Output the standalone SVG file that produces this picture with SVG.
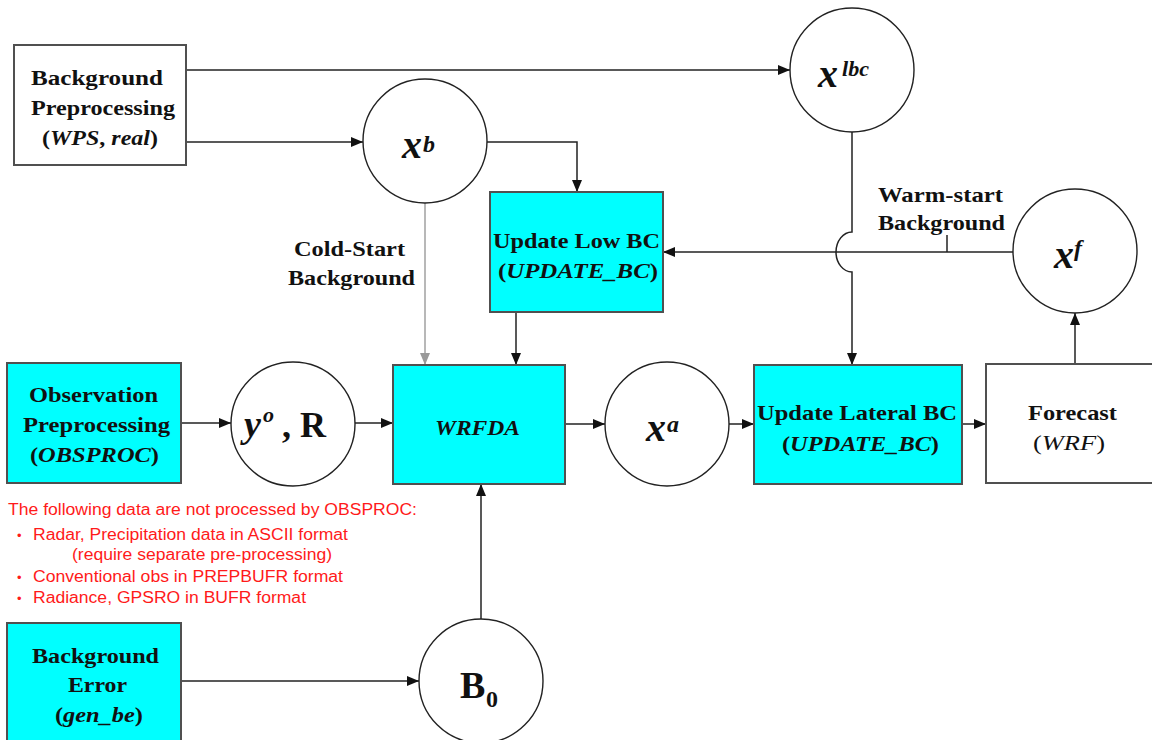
<svg xmlns="http://www.w3.org/2000/svg" width="1152" height="740" viewBox="0 0 1152 740">
<style>
.box{stroke:#505050;stroke-width:2}
.cy{fill:#00ffff}
.wh{fill:#ffffff}
.node{fill:#ffffff;stroke:#222;stroke-width:1.4}
.lbl{font-family:"Liberation Serif","Times New Roman",serif;font-weight:bold;font-size:22px;fill:#111}
.it{font-style:italic}
.nw{font-weight:normal}
.math{font-family:"Liberation Serif","Times New Roman",serif;font-weight:bold;font-style:italic;fill:#111}
.conn{fill:none;stroke:#222;stroke-width:1.5}
.gray{fill:none;stroke:#a0a0a0;stroke-width:1.5}
.red{font-family:"Liberation Sans",Arial,sans-serif;font-size:16px;fill:#ff1a1a}
</style>
<defs>
<marker id="ah" markerUnits="userSpaceOnUse" markerWidth="12" markerHeight="10" refX="12" refY="5" orient="auto">
<path d="M0,0 L12,5 L0,10 Z" fill="#111"/>
</marker>
<marker id="ahg" markerUnits="userSpaceOnUse" markerWidth="12" markerHeight="10" refX="12" refY="5" orient="auto">
<path d="M0,0 L12,5 L0,10 Z" fill="#999"/>
</marker>
</defs>
<rect width="1152" height="740" fill="#ffffff"/>

<g id="connectors">
<path class="conn" d="M186,70 H790" marker-end="url(#ah)"/>
<path class="conn" d="M186,142 H363" marker-end="url(#ah)"/>
<path class="conn" d="M487,142 H577 V192" marker-end="url(#ah)"/>
<path class="gray" d="M425,203 V365" marker-end="url(#ahg)"/>
<path class="conn" d="M516,312 V365" marker-end="url(#ah)"/>
<path class="conn" d="M852,132 V232 A16,20 0 0 0 852,272 V365" marker-end="url(#ah)"/>
<path class="conn" d="M1013,252 H663" marker-end="url(#ah)"/>
<path class="conn" d="M947,235 V252"/>
<path class="conn" d="M181,423 H231" marker-end="url(#ah)"/>
<path class="conn" d="M355,423 H393" marker-end="url(#ah)"/>
<path class="conn" d="M565,424 H605" marker-end="url(#ah)"/>
<path class="conn" d="M729,424 H754" marker-end="url(#ah)"/>
<path class="conn" d="M962,424 H986" marker-end="url(#ah)"/>
<path class="conn" d="M1075,364 V313" marker-end="url(#ah)"/>
<path class="conn" d="M181,681 H419" marker-end="url(#ah)"/>
<path class="conn" d="M481,619 V484" marker-end="url(#ah)"/>
</g>

<g id="bg-preprocessing">
<rect class="box wh" x="14" y="45" width="172" height="120"/>
<text class="lbl" x="31" y="85" textLength="132" lengthAdjust="spacingAndGlyphs">Background</text>
<text class="lbl" x="31" y="115" textLength="144" lengthAdjust="spacingAndGlyphs">Preprocessing</text>
<text class="lbl" x="42" y="145" textLength="116" lengthAdjust="spacingAndGlyphs">(<tspan class="it">WPS</tspan>, <tspan class="it">real</tspan>)</text>
</g>

<g id="xb">
<circle class="node" cx="425" cy="141" r="62"/>
<text class="math" x="402" y="158" font-size="40">x</text>
<text class="math" x="423" y="152" font-size="24">b</text>
</g>

<g id="xlbc">
<circle class="node" cx="852" cy="70" r="62"/>
<text class="math" x="818" y="87" font-size="40">x</text>
<text class="math" x="842" y="76" font-size="20" textLength="27" lengthAdjust="spacingAndGlyphs">lbc</text>
</g>

<g id="update-low-bc">
<rect class="box cy" x="490" y="192" width="173" height="120"/>
<text class="lbl" x="493" y="248" textLength="167" lengthAdjust="spacingAndGlyphs">Update Low BC</text>
<text class="lbl" x="498" y="278" textLength="160" lengthAdjust="spacingAndGlyphs">(<tspan class="it">UPDATE_BC</tspan>)</text>
</g>

<g id="cold-start-label">
<text class="lbl" x="294" y="256" textLength="111" lengthAdjust="spacingAndGlyphs">Cold-Start</text>
<text class="lbl" x="288" y="285" textLength="127" lengthAdjust="spacingAndGlyphs">Background</text>
</g>

<g id="warm-start-label">
<text class="lbl" x="878" y="202" textLength="125" lengthAdjust="spacingAndGlyphs">Warm-start</text>
<text class="lbl" x="878" y="230" textLength="127" lengthAdjust="spacingAndGlyphs">Background</text>
</g>

<g id="xf">
<circle class="node" cx="1075" cy="251" r="62"/>
<text class="math" x="1054" y="268" font-size="40">x</text>
<text class="math" x="1074" y="256" font-size="24">f</text>
</g>

<g id="obs-preprocessing">
<rect class="box cy" x="7" y="363" width="174" height="120"/>
<text class="lbl" x="29" y="402" textLength="129" lengthAdjust="spacingAndGlyphs">Observation</text>
<text class="lbl" x="23" y="432" textLength="147" lengthAdjust="spacingAndGlyphs">Preprocessing</text>
<text class="lbl" x="30" y="462" textLength="129" lengthAdjust="spacingAndGlyphs">(<tspan class="it">OBSPROC</tspan>)</text>
</g>

<g id="yo-r">
<circle class="node" cx="293" cy="424" r="62"/>
<text class="math" x="244" y="437" font-size="38">y</text>
<text class="math" x="263" y="422" font-size="22">o</text>
<text class="lbl" x="282" y="437" style="font-size:36px">, R</text>
</g>

<g id="wrfda">
<rect class="box cy" x="393" y="365" width="172" height="119"/>
<text class="lbl it" x="435" y="435" textLength="85" lengthAdjust="spacingAndGlyphs">WRFDA</text>
</g>

<g id="xa">
<circle class="node" cx="667" cy="424" r="62"/>
<text class="math" x="646" y="441" font-size="40">x</text>
<text class="math" x="667" y="432" font-size="24">a</text>
</g>

<g id="update-lateral-bc">
<rect class="box cy" x="754" y="365" width="208" height="119"/>
<text class="lbl" x="757" y="420" textLength="200" lengthAdjust="spacingAndGlyphs">Update Lateral BC</text>
<text class="lbl" x="782" y="451" textLength="157" lengthAdjust="spacingAndGlyphs">(<tspan class="it">UPDATE_BC</tspan>)</text>
</g>

<g id="forecast">
<rect class="box wh" x="986" y="364" width="180" height="119"/>
<text class="lbl" x="1028" y="420" textLength="89" lengthAdjust="spacingAndGlyphs">Forecast</text>
<text class="lbl nw" x="1033" y="450" textLength="72" lengthAdjust="spacingAndGlyphs">(<tspan class="it">WRF</tspan>)</text>
</g>

<g id="obsproc-note">
<text class="red" x="8" y="515" textLength="409" lengthAdjust="spacingAndGlyphs">The following data are not processed by OBSPROC:</text>
<text class="red" x="17" y="540" style="font-size:13px">•</text>
<text class="red" x="33" y="540" textLength="315" lengthAdjust="spacingAndGlyphs">Radar, Precipitation data in ASCII format</text>
<text class="red" x="72" y="560" textLength="260" lengthAdjust="spacingAndGlyphs">(require separate pre-processing)</text>
<text class="red" x="17" y="582" style="font-size:13px">•</text>
<text class="red" x="33" y="582" textLength="310" lengthAdjust="spacingAndGlyphs">Conventional obs in PREPBUFR format</text>
<text class="red" x="17" y="603" style="font-size:13px">•</text>
<text class="red" x="33" y="603" textLength="273" lengthAdjust="spacingAndGlyphs">Radiance, GPSRO in BUFR format</text>
</g>

<g id="background-error">
<rect class="box cy" x="7" y="623" width="174" height="130"/>
<text class="lbl" x="32" y="663" textLength="127" lengthAdjust="spacingAndGlyphs">Background</text>
<text class="lbl" x="68" y="692" textLength="59" lengthAdjust="spacingAndGlyphs">Error</text>
<text class="lbl" x="55" y="722" textLength="88" lengthAdjust="spacingAndGlyphs">(<tspan class="it">gen_be</tspan>)</text>
</g>

<g id="b0">
<circle class="node" cx="481" cy="681" r="62"/>
<text class="lbl" x="460" y="698" style="font-size:38px">B</text>
<text class="lbl" x="486" y="707" style="font-size:24px">0</text>
</g>
</svg>
